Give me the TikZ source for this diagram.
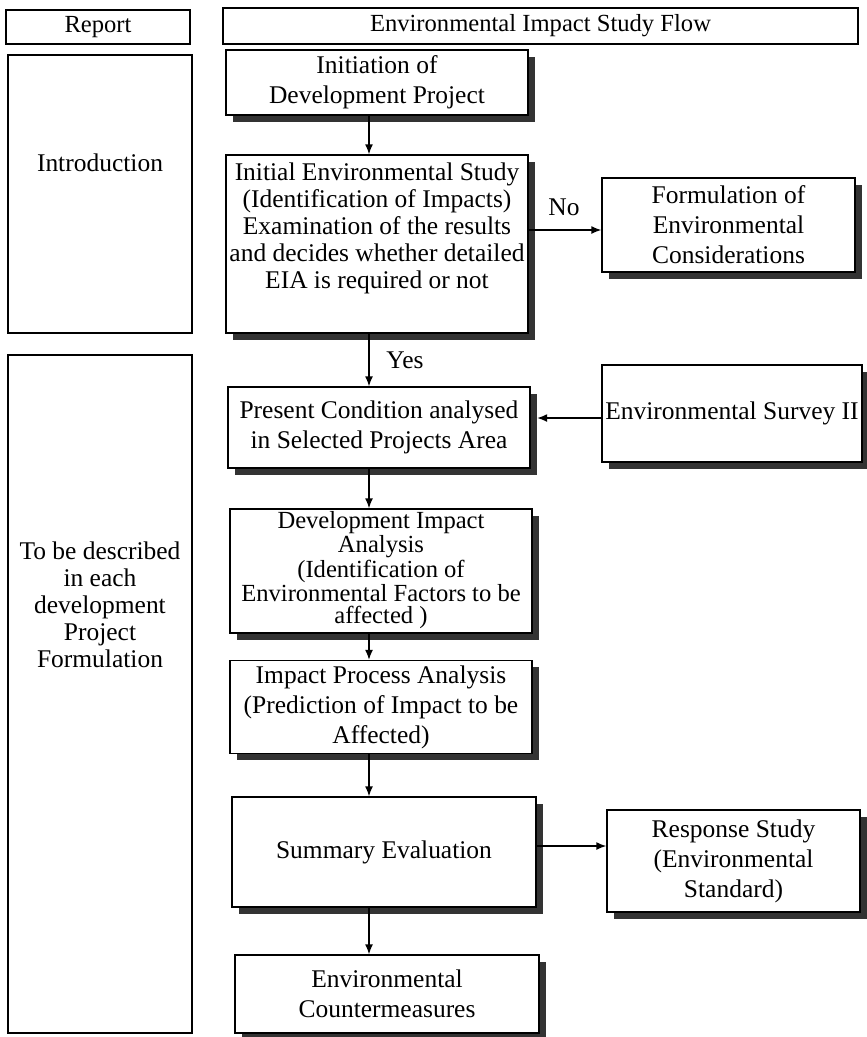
\documentclass[tikz,border=0pt]{standalone}
\usepackage{fontspec}
\setmainfont{Liberation Serif}
\usepackage{tikz}
\usetikzlibrary{arrows.meta,positioning,calc,shadows}
\tikzset{>={Latex[length=2mm,width=1.6mm]}}

\begin{document}
\begin{tikzpicture}[x=0.2mm,y=-0.2mm,line width=0.8pt]
  % Styles
  \tikzset{
    boxsize/.style 2 args={minimum width=#1*0.2mm,minimum height=#2*0.2mm},
    headbox/.style={draw,inner sep=0pt,font=\fontsize{14}{16}\selectfont},
    colbox/.style={draw,inner sep=0pt},
    flowbox/.style={draw,fill=white,inner sep=0pt,align=center,
      font=\fontsize{14.5}{17}\selectfont,
      drop shadow={shadow xshift=1.3mm,shadow yshift=-1.3mm,fill=black!80,opacity=1}},
    lab/.style={align=center,inner sep=0pt,font=\fontsize{14.5}{17}\selectfont}
  }
  \useasboundingbox (0,0) rectangle (867,1037);

  %================= HEADERS =================
  \node[headbox,boxsize={184}{34}] (H-rep) at (98,27) {Report};
  \node[headbox,boxsize={635}{36}] (H-flow) at (540.5,26) {Environmental Impact Study Flow};

  %================= REPORT COLUMN =================
  \node[colbox,boxsize={184}{278}] (R-intro) at (100,194) {};
  \node[lab] (txtIntro) at (100,163) {Introduction};

  \node[colbox,boxsize={184}{678}] (R-desc) at (100,694) {};
  \node[lab,font=\fontsize{14.5}{15.4}\selectfont] (txtDesc) at (100,605)
    {To be described\\in each\\development\\Project\\Formulation};

  %================= STUDY FLOW =================
  \coordinate (axis) at (369,0);

  \node[flowbox,boxsize={302}{65}] (F-init) at (377,82.5) {Initiation of\\Development Project};

  \node[flowbox,boxsize={302}{178}] (F-ies) at (377,244) {};
  \node[lab,font=\fontsize{14.5}{15.4}\selectfont] (txtIES) at (377,228.5)
    {Initial Environmental Study\\(Identification of Impacts)\\Examination of the results\\and decides whether detailed\\EIA is required or not};

  \node[flowbox,boxsize={253}{94}] (F-form) at (728.5,225) {Formulation of\\Environmental\\Considerations};

  \node[flowbox,boxsize={302}{81}] (F-present) at (379,427.5) {Present Condition analysed\\in Selected Projects Area};
  \node[flowbox,boxsize={260}{97}] (F-survey) at (732,413.5) {Environmental Survey II};

  \node[flowbox,boxsize={302}{124}] (F-dev) at (381,571) {};
  \node[lab,font=\fontsize{14}{12.6}\selectfont] (txtDev) at (381,570)
    {Development Impact\\Analysis\\(Identification of\\Environmental Factors to be\\affected )};
  \node[flowbox,boxsize={302}{93}] (F-proc) at (381,707)
    {Impact Process Analysis\\(Prediction of Impact to be\\Affected)};

  \node[flowbox,boxsize={304}{110}] (F-sum) at (384,852) {Summary Evaluation};
  \node[flowbox,boxsize={253}{102}] (F-resp) at (733.5,861) {Response Study\\(Environmental\\Standard)};
  \node[flowbox,boxsize={304}{78}] (F-count) at (387,994) {Environmental\\Countermeasures};

  % Branch labels
  \node[lab] (lblNo) at (564,207) {No};
  \node[lab] (lblYes) at (405,360) {Yes};

  %================= ARROWS =================
  \coordinate (lvlNo) at (0,230);
  \coordinate (lvlSv) at (0,418);
  \coordinate (lvlRs) at (0,846);

  \draw[->] (F-init.south -| axis) -- (F-ies.north -| axis);
  \draw[->] (F-ies.east |- lvlNo) -- (F-form.west |- lvlNo);
  \draw[->] (F-ies.south -| axis) -- (F-present.north -| axis);
  \draw[->,shorten >=1.3mm] (F-survey.west |- lvlSv) -- (F-present.east |- lvlSv);
  \draw[->] (F-present.south -| axis) -- (F-dev.north -| axis);
  \draw[->] (F-dev.south -| axis) -- (F-proc.north -| axis);
  \draw[->] (F-proc.south -| axis) -- (F-sum.north -| axis);
  \draw[->] (F-sum.east |- lvlRs) -- (F-resp.west |- lvlRs);
  \draw[->] (F-sum.south -| axis) -- (F-count.north -| axis);

\end{tikzpicture}
\end{document}
